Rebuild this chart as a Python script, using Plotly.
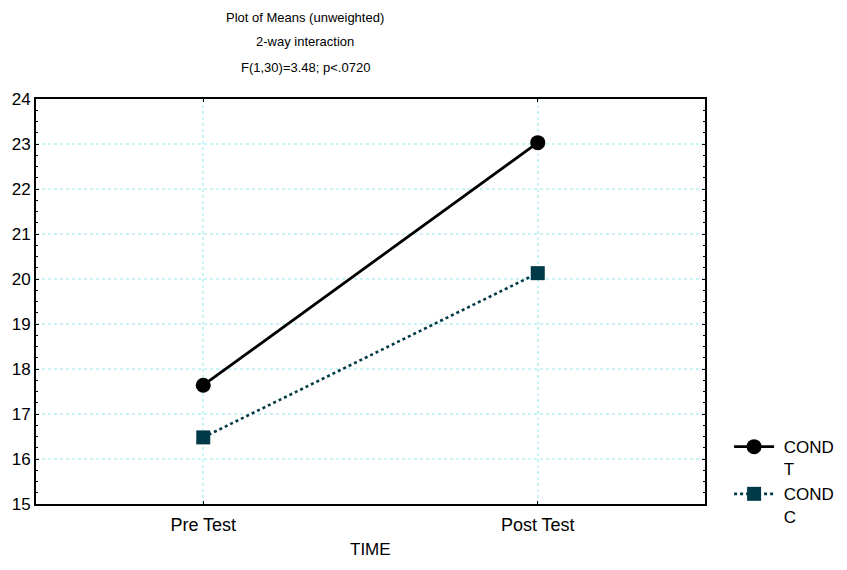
import plotly.graph_objects as go

time_labels = ["Pre Test", "Post Test"]
cond_t = [17.64, 23.03]
cond_c = [16.48, 20.13]
series_names = ["COND<br>T", "COND<br>C"]
y_ticks = list(range(15, 25))
x_title = "TIME"

pad = "\u00a0"

fig = go.Figure()
fig.add_trace(go.Scatter(
    x=time_labels, y=cond_t, name=pad + series_names[0].replace("<br>", "<br>" + pad),
    mode="lines+markers",
    line=dict(color="#000000", width=2.8, dash="solid"),
    marker=dict(symbol="circle", size=15, color="#000000"),
))
fig.add_trace(go.Scatter(
    x=time_labels, y=cond_c, name=pad + series_names[1].replace("<br>", "<br>" + pad),
    mode="lines+markers",
    line=dict(color="#003a48", width=2.6, dash="dot"),
    marker=dict(symbol="square", size=14, color="#003a48"),
))

font_family = "Liberation Sans, Arial, sans-serif"
fig.update_layout(
    width=831, height=554,
    margin=dict(l=28, r=134, t=91, b=58, autoexpand=False),
    paper_bgcolor="white", plot_bgcolor="white",
    font=dict(family=font_family, size=17, color="#000000"),
    showlegend=True,
    legend=dict(x=1.036, y=0.185, xanchor="left", yanchor="top",
                font=dict(size=17), bgcolor="rgba(0,0,0,0)",
                valign="top", tracegroupgap=2, itemwidth=40),
    xaxis=dict(
        type="category", range=[-0.5, 1.5], automargin=False,
        showline=True, linecolor="#000000", linewidth=2, mirror="ticks",
        ticks="inside", ticklen=3, tickcolor="#000000",
        showgrid=True, gridcolor="#c8f4f8", griddash="dot", gridwidth=1.5,
        zeroline=False,
        tickfont=dict(size=18), ticklabelstandoff=3,
    ),
    yaxis=dict(
        range=[15, 24], tickvals=y_ticks, automargin=False,
        showline=True, linecolor="#000000", linewidth=2, mirror="ticks",
        ticks="inside", ticklen=3, tickcolor="#000000",
        showgrid=True, gridcolor="#c8f4f8", griddash="dot", gridwidth=1.5,
        zeroline=False,
        tickfont=dict(size=17),
        minor=dict(ticks="inside", ticklen=2, dtick=0.25, tickcolor="#000000", showgrid=False),
    ),
)

fig.add_annotation(
    text=x_title, x=0.5, xref="paper", y=-(541 - 496) / 405, yref="paper",
    showarrow=False, xanchor="center", yanchor="middle",
    font=dict(family=font_family, size=17),
)

titles = ["Plot of Means (unweighted)", "2-way interaction", "F(1,30)=3.48; p<.0720"]
title_px = [9, 34, 60]
for t, yp in zip(titles, title_px):
    fig.add_annotation(
        text=t, x=(297 - 28) / 669, xref="paper", y=1 + (91 - yp) / 405, yref="paper",
        showarrow=False, xanchor="center", yanchor="middle",
        font=dict(family=font_family, size=13),
    )

fig.write_html("out.html")
